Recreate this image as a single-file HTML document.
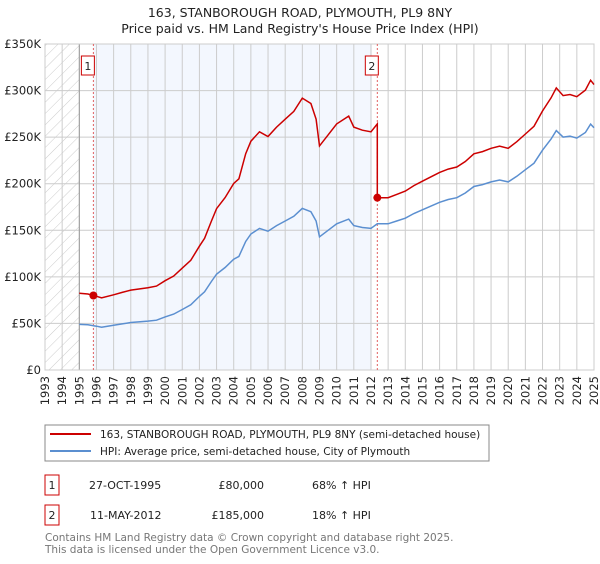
<!DOCTYPE html>
<html><head><meta charset="utf-8"><style>
body{margin:0;background:#fff;width:600px;height:560px;overflow:hidden;font-family:"DejaVu Sans","Liberation Sans",sans-serif;}
</style></head><body>
<svg id="chart" width="600" height="560" xmlns="http://www.w3.org/2000/svg" font-family="DejaVu Sans, Liberation Sans, sans-serif">
<defs><pattern id="hatch" patternUnits="userSpaceOnUse" width="8" height="8" patternTransform="rotate(45)"><line x1="0" y1="0" x2="0" y2="8" stroke="#ccc" stroke-width="1"/></pattern></defs>
<text x="300" y="17" text-anchor="middle" font-size="12.5" fill="#222">163, STANBOROUGH ROAD, PLYMOUTH, PL9 8NY</text>
<text x="300" y="33" text-anchor="middle" font-size="12.5" fill="#222">Price paid vs. HM Land Registry's House Price Index (HPI)</text>
<g id="plot"></g>
<g>
<rect x="45" y="425" width="444" height="36" fill="#fff" stroke="#888"/>
<line x1="50" y1="434" x2="91" y2="434" stroke="#cc0000" stroke-width="2"/>
<text x="100" y="438" font-size="10.5" fill="#222">163, STANBOROUGH ROAD, PLYMOUTH, PL9 8NY (semi-detached house)</text>
<line x1="50" y1="451" x2="91" y2="451" stroke="#5b8fd0" stroke-width="2"/>
<text x="100" y="455" font-size="10.5" fill="#222">HPI: Average price, semi-detached house, City of Plymouth</text>
</g>
<g font-size="11" fill="#222">
<rect x="45" y="475" width="14" height="20" fill="#fff" stroke="#cc0000"/>
<text x="52" y="489" text-anchor="middle">1</text>
<text x="89" y="489">27-OCT-1995</text>
<text x="264" y="489" text-anchor="end">£80,000</text>
<text x="312" y="489">68% ↑ HPI</text>
</g>
<g font-size="11" fill="#222">
<rect x="45" y="505" width="14" height="20" fill="#fff" stroke="#cc0000"/>
<text x="52" y="519" text-anchor="middle">2</text>
<text x="90" y="519">11-MAY-2012</text>
<text x="264" y="519" text-anchor="end">£185,000</text>
<text x="312" y="519">18% ↑ HPI</text>
</g>
<text x="45" y="541" font-size="10.5" fill="#777">Contains HM Land Registry data © Crown copyright and database right 2025.</text>
<text x="45" y="553" font-size="10.5" fill="#777">This data is licensed under the Open Government Licence v3.0.</text>
</svg>
<script>
const hpiYears=[1995.0,1995.5,1996.0,1996.3,1997.0,1997.5,1998.0,1999.0,1999.5,2000.0,2000.5,2001.0,2001.5,2002.0,2002.3,2002.7,2003.0,2003.5,2004.0,2004.3,2004.7,2005.0,2005.5,2006.0,2006.5,2007.0,2007.5,2008.0,2008.5,2008.8,2009.0,2009.5,2010.0,2010.7,2011.0,2011.5,2012.0,2012.37,2013.0,2013.5,2014.0,2014.5,2015.0,2015.5,2016.0,2016.5,2017.0,2017.5,2018.0,2018.5,2019.0,2019.5,2020.0,2020.5,2021.0,2021.5,2022.0,2022.5,2022.8,2023.2,2023.6,2024.0,2024.5,2024.8,2025.0];
const hpiValues=[49000,48500,47000,46000,48000,49500,51000,52500,53500,57000,60000,65000,70000,79000,84000,95000,103000,110000,119000,122000,138000,146000,152000,149000,155000,160000,165000,173500,170000,160000,143000,150000,157000,162000,155000,153000,152000,157000,157000,160000,163000,168000,172000,176000,180000,183000,185000,190000,197000,199000,202000,204000,202000,208000,215000,222000,236000,248000,257000,250000,251000,249000,255000,264000,260000];
const saleYears=[1995.82,2012.37];
const salePrices=[80000,185000];
const yTicks=[0,50000,100000,150000,200000,250000,300000,350000];
const yTickLabels=["£0","£50K","£100K","£150K","£200K","£250K","£300K","£350K"];
const xTicks=[1993,1994,1995,1996,1997,1998,1999,2000,2001,2002,2003,2004,2005,2006,2007,2008,2009,2010,2011,2012,2013,2014,2015,2016,2017,2018,2019,2020,2021,2022,2023,2024,2025];

const L=45,R=594,T=44,B=370,X0=1993,X1=2025,YMAX=350000;
const xs=y=>L+(y-X0)/(X1-X0)*(R-L);
const ys=v=>B-v/YMAX*(B-T);
const NS="http://www.w3.org/2000/svg";
const plot=document.getElementById('plot');
function mk(tag,attrs){const e=document.createElementNS(NS,tag);for(const k in attrs)e.setAttribute(k,attrs[k]);plot.appendChild(e);return e;}
function hpiAt(t){for(let i=0;i<hpiYears.length-1;i++){if(t>=hpiYears[i]&&t<=hpiYears[i+1]){const f=(t-hpiYears[i])/(hpiYears[i+1]-hpiYears[i]);return hpiValues[i]+f*(hpiValues[i+1]-hpiValues[i]);}}return hpiValues[hpiValues.length-1];}

let e=mk('rect',{x:L,y:T,width:R-L,height:B-T,fill:'#fff'});


e=mk('rect',{x:xs(saleYears[0]),y:T,width:xs(2012.05)-xs(saleYears[0]),height:B-T,fill:'#eef3fd',opacity:0.7});


e=mk('rect',{x:L,y:T,width:xs(1995)-L,height:B-T,fill:'url(#hatch)'});


xTicks.forEach(t=>{
  const g=mk('line',{x1:xs(t),x2:xs(t),y1:T,y2:B,stroke:'#ccc','stroke-width':1});
  
  
  const lb=mk('text',{x:0,y:0,'font-size':11.5,fill:'#222','text-anchor':'end',transform:`translate(${xs(t)+4},${B+6}) rotate(-90)`});
  lb.textContent=t;
  
  
});
yTicks.forEach((v,i)=>{
  const g=mk('line',{x1:L,x2:R,y1:ys(v),y2:ys(v),stroke:'#ccc','stroke-width':1});
  
  
  const lb=mk('text',{x:L-4,y:ys(v)+4,'font-size':11.5,fill:'#222','text-anchor':'end'});
  lb.textContent=yTickLabels[i];
  
  
});
e=mk('line',{x1:xs(1995),x2:xs(1995),y1:T,y2:B,stroke:'#999'});


e=mk('rect',{x:L,y:T,width:R-L,height:B-T,fill:'none',stroke:'#ccc'});


saleYears.forEach((s,i)=>{
  const l=mk('line',{x1:xs(s),x2:xs(s),y1:T,y2:B,stroke:'#e06060','stroke-dasharray':'2,2'});
  
  
  const bx=mk('rect',{x:xs(s)-12,y:56,width:13,height:19,fill:'#fff',stroke:'#cc0000'});
  
  
  const tx=mk('text',{x:xs(s)-5.5,y:70,'font-size':11,fill:'#222','text-anchor':'middle'});
  tx.textContent=String(i+1);
  
  
});
// HPI line
let d='';hpiYears.forEach((t,i)=>{d+=(i?'L':'M')+xs(t).toFixed(1)+','+ys(hpiValues[i]).toFixed(1);});
e=mk('path',{d:d,fill:'none',stroke:'#5b8fd0','stroke-width':1.5});


// Property line: HPI indexed from sales
const r1=salePrices[0]/hpiAt(saleYears[0]),r2=salePrices[1]/hpiAt(saleYears[1]);
let pd='';let first=true;
hpiYears.forEach((t,i)=>{
  if(t<saleYears[1]){pd+=(first?'M':'L')+xs(t).toFixed(1)+','+ys(hpiValues[i]*r1).toFixed(1);first=false;}
});
pd+='L'+xs(saleYears[1]).toFixed(1)+','+ys(hpiAt(saleYears[1])*r1).toFixed(1);
pd+='L'+xs(saleYears[1]).toFixed(1)+','+ys(salePrices[1]).toFixed(1);
hpiYears.forEach((t,i)=>{if(t>saleYears[1])pd+='L'+xs(t).toFixed(1)+','+ys(hpiValues[i]*r2).toFixed(1);});
e=mk('path',{d:pd,fill:'none',stroke:'#cc0000','stroke-width':1.5});


saleYears.forEach((s,i)=>{
  const c=mk('circle',{cx:xs(s),cy:ys(salePrices[i]),r:4,fill:'#cc0000'});
  
  
});
</script>
</body></html>
